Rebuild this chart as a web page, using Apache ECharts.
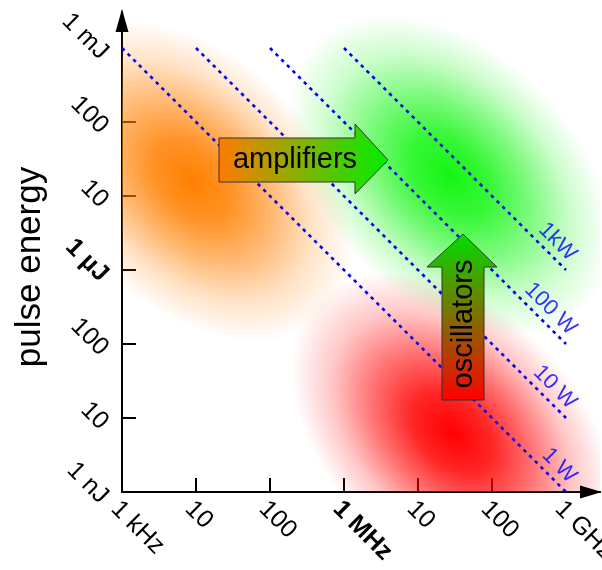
<!DOCTYPE html>
<html><head><meta charset="utf-8">
<script src="https://cdn.jsdelivr.net/npm/echarts@6/dist/echarts.min.js"></script>
<style>html,body{margin:0;padding:0;background:#fff}#c{width:602px;height:570px}</style>
</head><body><div id="c"></div>
<script>
// ---- axis ticks / labels ----
const xTickValues = [1e3, 1e4, 1e5, 1e6, 1e7, 1e8, 1e9];
const xTickLabels = ['1 kHz', '10', '100', '1 MHz', '10', '100', '1 GHz'];
const xTickMarks = [1e4, 1e5, 1e6, 1e7, 1e8];
const yTickValues = [1e-9, 1e-8, 1e-7, 1e-6, 1e-5, 1e-4, 1e-3];
const yTickLabels = ['1 nJ', '10', '100', '1 µJ', '10', '100', '1 mJ'];
const yTickMarks = [1e-8, 1e-7, 1e-6, 1e-5, 1e-4];
const boldLabels = ['1 MHz', '1 µJ'];

// ---- constant-power lines ----
const powerNames = ['1 W', '10 W', '100 W', '1kW'];
const powerStartFreq = [1e3, 1e4, 1e5, 1e6];
const powerStartEnergy = [1e-3, 1e-3, 1e-3, 1e-3];
const powerEndFreq = [1e9, 1e9, 1e9, 1e9];
const powerEndEnergy = [1e-9, 1e-8, 1e-7, 1e-6];

// ---- regions (blob centres) ----
const regionNames = ['amplifier region', 'high-power oscillators', 'low-power oscillators'];
const regionFreq = [8.8e3, 2.7e7, 2.9e7];
const regionEnergy = [1.6e-5, 1.9e-5, 6.3e-9];
const regionRGB = ['255,128,0', '20,245,20', '255,0,0'];

const FONT = "'Liberation Sans', Arial, sans-serif";

function labelFmt(values, labels) {
  return function (v) {
    const lv = Math.log10(v);
    const i = values.findIndex(t => Math.abs(Math.log10(t) - lv) < 1e-6);
    if (i < 0) return '';
    const s = labels[i];
    return boldLabels.indexOf(s) >= 0 ? '{b|' + s + '}' : s;
  };
}

const chart = echarts.init(document.getElementById('c'), null, {renderer: 'canvas'});

const lineSeries = powerNames.map((n, i) => ({
  type: 'line', name: n, z: 3, silent: true,
  showSymbol: false, symbol: 'none',
  data: [[powerStartFreq[i], powerStartEnergy[i]], [powerEndFreq[i], powerEndEnergy[i]]],
  lineStyle: {color: '#0000ff', width: 2.6, type: [3.5, 4.5]}
}));

const option = {
  animation: false,
  backgroundColor: '#fff',
  grid: {left: 122, right: 2, top: 12, bottom: 78, containLabel: false, outerBoundsMode: 'none'},
  xAxis: {
    type: 'log', logBase: 10,
    min: 1e3, max: Math.pow(10, 3 + 478 / 74),
    splitLine: {show: false}, minorTick: {show: false},
    axisLine: {show: true, lineStyle: {color: '#000', width: 2}},
    axisTick: {show: true, inside: true, length: 14, lineStyle: {color: '#000', width: 2}, customValues: xTickMarks},
    axisLabel: {
      show: true, rotate: -45, margin: 6, color: '#000', fontSize: 25, fontFamily: FONT,
      padding: [20, 0, 0, 0],
      customValues: xTickValues, formatter: labelFmt(xTickValues, xTickLabels),
      rich: {b: {fontWeight: 'bold', fontSize: 25, fontFamily: FONT, color: '#000'}}
    }
  },
  yAxis: {
    type: 'log', logBase: 10,
    min: 1e-9, max: Math.pow(10, -9 + 480 / 74),
    name: 'pulse energy', nameLocation: 'middle', nameRotate: 90, nameGap: 74,
    nameMoveOverlap: false,
    nameTextStyle: {fontSize: 35, fontFamily: FONT, color: '#000', padding: [0, 30, 0, 0]},
    splitLine: {show: false}, minorTick: {show: false},
    axisLine: {show: true, lineStyle: {color: '#000', width: 2}},
    axisTick: {show: true, inside: true, length: 14, lineStyle: {color: '#000', width: 2}, customValues: yTickMarks},
    axisLabel: {
      show: true, rotate: -45, margin: 10, color: '#000', fontSize: 25, fontFamily: FONT,
      padding: [22, 0, 0, 0],
      customValues: yTickValues, formatter: labelFmt(yTickValues, yTickLabels),
      rich: {b: {fontWeight: 'bold', fontSize: 25, fontFamily: FONT, color: '#000'}}
    }
  },
  series: [
    {
      type: 'custom', name: 'regions', z: 1, silent: true, clip: true,
      data: regionFreq.map((f, i) => [f, regionEnergy[i]]),
      renderItem: function (params, api) {
        const p = api.coord([api.value(0), api.value(1)]);
        const c = regionRGB[params.dataIndex];
        return {
          type: 'circle',
          x: p[0], y: p[1], rotation: -Math.PI / 4, scaleX: 1.9, scaleY: 1.25,
          shape: {cx: 0, cy: 0, r: 100},
          style: {
            fill: {
              type: 'radial', x: 0.5, y: 0.5, r: 0.5,
              colorStops: [
                {offset: 0, color: 'rgba(' + c + ',1)'},
                {offset: 0.25, color: 'rgba(' + c + ',0.85)'},
                {offset: 0.5, color: 'rgba(' + c + ',0.55)'},
                {offset: 0.75, color: 'rgba(' + c + ',0.22)'},
                {offset: 1, color: 'rgba(' + c + ',0)'}
              ]
            }
          }
        };
      }
    }
  ].concat(lineSeries).concat([
    {
      type: 'scatter', name: 'power labels', z: 5, silent: true,
      symbolSize: 1, itemStyle: {color: 'rgba(0,0,0,0)'},
      data: powerNames.map((n, i) => ({name: n, value: [powerEndFreq[i], powerEndEnergy[i]]})),
      label: {
        show: true, position: 'inside', formatter: '{b}', rotate: -45,
        align: 'right', verticalAlign: 'middle', offset: [-4, -14],
        color: '#0000ff', fontSize: 22, fontFamily: FONT
      }
    }
  ]),
  graphic: [
    {
      type: 'polygon', z: 100, silent: true,
      shape: {points: [[122, 9], [115.5, 32], [128.5, 32]]},
      style: {fill: '#000'}
    },
    {
      type: 'polygon', z: 100, silent: true,
      shape: {points: [[602, 492], [580, 485.5], [580, 498.5]]},
      style: {fill: '#000'}
    },
    {
      type: 'polygon', z: 100, silent: true,
      shape: {points: [[219, 138], [355, 138], [355, 124], [388, 160], [355, 194], [355, 182], [219, 182]]},
      style: {
        stroke: '#333', lineWidth: 1,
        fill: {type: 'linear', x: 0, y: 0, x2: 1, y2: 0,
          colorStops: [{offset: 0, color: '#ff7a00'}, {offset: 1, color: '#00ee00'}]}
      }
    },
    {
      type: 'text', z: 101, silent: true, x: 295, y: 160,
      style: {text: 'amplifiers', fontSize: 29, fontFamily: FONT, fill: '#000', align: 'center', verticalAlign: 'middle'}
    },
    {
      type: 'polygon', z: 100, silent: true,
      shape: {points: [[442, 400], [484, 400], [484, 267], [497, 267], [463, 234], [427, 267], [442, 267]]},
      style: {
        stroke: '#333', lineWidth: 1,
        fill: {type: 'linear', x: 0, y: 1, x2: 0, y2: 0,
          colorStops: [{offset: 0, color: '#ff0000'}, {offset: 1, color: '#00dd00'}]}
      }
    },
    {
      type: 'text', z: 101, silent: true, x: 464, y: 324, rotation: Math.PI / 2,
      style: {text: 'oscillators', fontSize: 29, fontFamily: FONT, fill: '#000', align: 'center', verticalAlign: 'middle'}
    }
  ]
};
chart.setOption(option);
</script>
</body></html>
